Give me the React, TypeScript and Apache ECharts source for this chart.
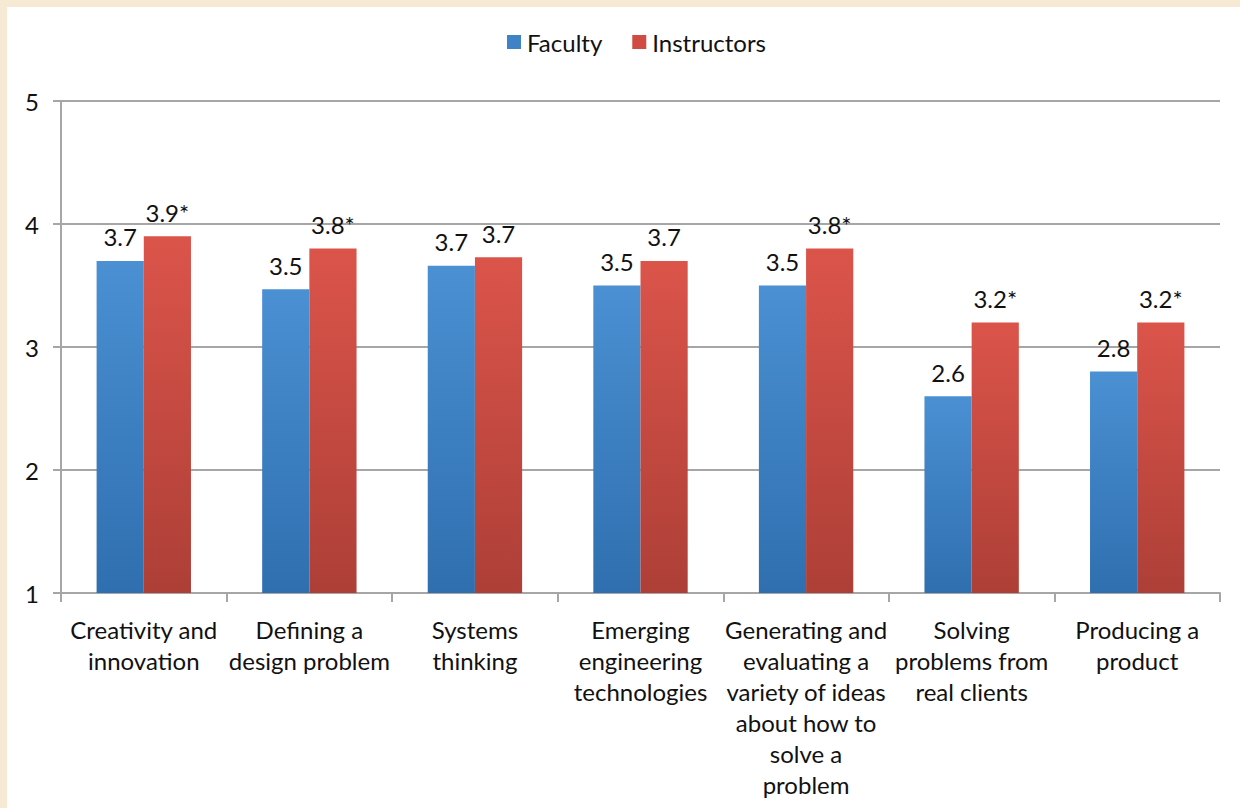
import React, { useEffect, useRef } from "react";
import * as echarts from "echarts";

const categories = [
  "Creativity and\ninnovation",
  "Defining a\ndesign problem",
  "Systems\nthinking",
  "Emerging\nengineering\ntechnologies",
  "Generating and\nevaluating a\nvariety of ideas\nabout how to\nsolve a\nproblem",
  "Solving\nproblems from\nreal clients",
  "Producing a\nproduct",
];
const facultyValues = [3.7, 3.47, 3.66, 3.5, 3.5, 2.6, 2.8];
const instructorValues = [3.9, 3.8, 3.73, 3.7, 3.8, 3.2, 3.2];
const facultyLabels = ["3.7", "3.5", "3.7", "3.5", "3.5", "2.6", "2.8"];
const instructorLabels = ["3.9*", "3.8*", "3.7", "3.7", "3.8*", "3.2*", "3.2*"];
const yTicks = [1, 2, 3, 4, 5];

const FONT = "Lato, 'Open Sans', sans-serif";

export default function App() {
  const ref = useRef<HTMLDivElement>(null);
  useEffect(() => {
    document.body.style.margin = "0";
    if (!ref.current) return;
    const chart = echarts.init(ref.current, undefined, { renderer: "svg" });
    const blue = new echarts.graphic.LinearGradient(0, 0, 0, 1, [
      { offset: 0, color: "#4a90d2" },
      { offset: 1, color: "#2f6fb0" },
    ]);
    const red = new echarts.graphic.LinearGradient(0, 0, 0, 1, [
      { offset: 0, color: "#db544a" },
      { offset: 1, color: "#ad3f37" },
    ]);
    const labelStyle = {
      show: true,
      position: "top" as const,
      distance: 12,
      fontSize: 24,
      fontFamily: FONT,
      color: "#111",
    };
    chart.setOption({
      animation: false,
      backgroundColor: "#ffffff",
      textStyle: { fontFamily: FONT },
      legend: {
        top: 18,
        left: 495,
        itemWidth: 14,
        itemHeight: 14,
        itemGap: 30,
        icon: "rect",
        textStyle: { fontSize: 24, fontFamily: FONT, color: "#111", padding: [0, 0, 0, 1] },
        data: [
          { name: "Faculty", itemStyle: { color: "#3f83c6" } },
          { name: "Instructors", itemStyle: { color: "#d04b43" } },
        ],
      },
      grid: { left: 54, top: 94, width: 1159, height: 492, containLabel: false },
      xAxis: {
        type: "category",
        data: categories,
        axisLine: { show: true, lineStyle: { color: "#a6a6a6", width: 2 } },
        axisTick: { show: true, length: 9, lineStyle: { color: "#a6a6a6", width: 2 } },
        axisLabel: {
          interval: 0,
          margin: 21,
          fontSize: 24,
          lineHeight: 31,
          fontFamily: FONT,
          color: "#111",
        },
      },
      yAxis: {
        type: "value",
        min: yTicks[0],
        max: yTicks[yTicks.length - 1],
        interval: 1,
        axisLine: { show: true, lineStyle: { color: "#a6a6a6", width: 2 } },
        axisTick: { show: true, length: 8, lineStyle: { color: "#a6a6a6", width: 2 } },
        splitLine: { show: true, lineStyle: { color: "#a6a6a6", width: 2 } },
        axisLabel: { margin: 22, fontSize: 24, fontFamily: FONT, color: "#111" },
      },
      series: [
        {
          name: "Faculty",
          type: "bar",
          barGap: "0%",
          barCategoryGap: "43%",
          itemStyle: { color: blue },
          data: facultyValues,
          label: {
            ...labelStyle,
            formatter: (p: any) => facultyLabels[p.dataIndex],
          },
        },
        {
          name: "Instructors",
          type: "bar",
          itemStyle: { color: red },
          data: instructorValues,
          label: {
            ...labelStyle,
            formatter: (p: any) => instructorLabels[p.dataIndex],
          },
        },
      ],
    });
    return () => chart.dispose();
  }, []);
  return (
    <div
      style={{
        position: "absolute",
        left: 0,
        top: 0,
        width: 1240,
        height: 808,
        background: "#f6ead5",
      }}
    >
      <div
        ref={ref}
        style={{
          position: "absolute",
          left: 7,
          top: 7,
          width: 1233,
          height: 801,
          background: "#ffffff",
        }}
      />
    </div>
  );
}
